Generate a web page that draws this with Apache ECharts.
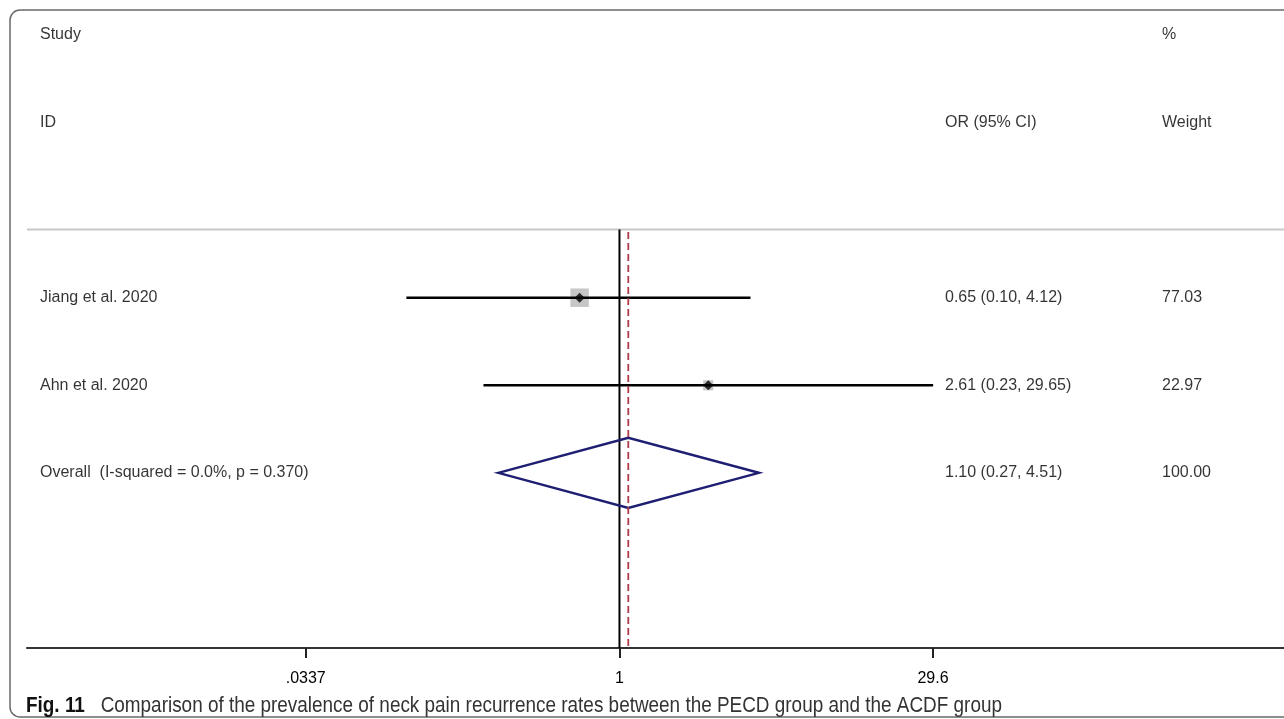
<!DOCTYPE html>
<html><head><meta charset="utf-8">
<script src="https://cdn.jsdelivr.net/npm/echarts@6/dist/echarts.min.js"></script>
<style>html,body{margin:0;padding:0;background:#fff}#c{width:1284px;height:719px}</style>
</head><body><div id="c"></div>
<script>
// ---- data ----
const studies = ['Jiang et al. 2020', 'Ahn et al. 2020'];
const orValues = [0.65, 2.61];
const ciLower = [0.10, 0.23];
const ciUpper = [4.12, 29.65];
const weights = [77.03, 22.97];
const overallLabel = ['Overall  (I-squared = 0.0%, p = 0.370)'];
const overallOR = [1.10];
const overallLower = [0.27];
const overallUpper = [4.51];
const overallWeight = [100.00];
const tickValues = [0.0337, 1, 29.6];
const tickLabels = ['.0337', '1', '29.6'];
const headerTop = ['Study', '%'];
const headerBottom = ['ID', 'OR (95% CI)', 'Weight'];
const caption = ['Fig. 11', 'Comparison of the prevalence of neck pain recurrence rates between the PECD group and the ACDF group'];

// ---- layout ----
const xMin = 0.001658, xMax = 1314;
const studyRow0 = 3, overallRow = 5, sepRow = 2.22, axisRow = 7;
const colStudy = 13, colOR = 918, colWeight = 1135; // px offsets from grid left
const FONT = '"Liberation Sans", Arial, sans-serif';

const fmt = v => v.toFixed(2);
const rowOf = i => studyRow0 + i;

const textData = [];
textData.push([colStudy, 0, headerTop[0]]);
textData.push([colWeight, 0, headerTop[1]]);
textData.push([colStudy, 1, headerBottom[0]]);
textData.push([colOR, 1, headerBottom[1]]);
textData.push([colWeight, 1, headerBottom[2]]);
studies.forEach((s, i) => {
  textData.push([colStudy, rowOf(i), s]);
  textData.push([colOR, rowOf(i), fmt(orValues[i]) + ' (' + fmt(ciLower[i]) + ', ' + fmt(ciUpper[i]) + ')']);
  textData.push([colWeight, rowOf(i), fmt(weights[i])]);
});
textData.push([colStudy, overallRow, overallLabel[0]]);
textData.push([colOR, overallRow, fmt(overallOR[0]) + ' (' + fmt(overallLower[0]) + ', ' + fmt(overallUpper[0]) + ')']);
textData.push([colWeight, overallRow, fmt(overallWeight[0])]);

const ciData = studies.map((s, i) => [ciLower[i], ciUpper[i], rowOf(i)]);
const boxData = studies.map((s, i) => [orValues[i], rowOf(i), weights[i]]);
const pointData = studies.map((s, i) => [orValues[i], rowOf(i)]);
const diamondData = [[overallLower[0], overallOR[0], overallUpper[0], overallRow]];

const chart = echarts.init(document.getElementById('c'));
chart.setOption({
  animation: false,
  backgroundColor: '#fff',
  grid: { left: 27, right: 0, top: 35, bottom: 71 },
  xAxis: [{
    type: 'log', logBase: Math.E, min: xMin, max: xMax, position: 'bottom',
    axisLine: { show: true, onZero: false, lineStyle: { color: '#333', width: 2 } },
    axisTick: { show: true, length: 10, customValues: tickValues, lineStyle: { color: '#222', width: 2 } },
    axisLabel: {
      customValues: tickValues, margin: 23, fontSize: 16, color: '#000', fontFamily: FONT,
      formatter: v => {
        let best = 0;
        tickValues.forEach((t, k) => { if (Math.abs(Math.log(t) - Math.log(v)) < Math.abs(Math.log(tickValues[best]) - Math.log(v))) best = k; });
        return tickLabels[best];
      }
    },
    splitLine: { show: false }
  }, {
    type: 'value', min: 0, max: 1257, show: false
  }],
  yAxis: [{ type: 'value', inverse: true, min: 0, max: axisRow, show: false }],
  graphic: [
    { type: 'rect', shape: { x: 10, y: 10, width: 1300, height: 707, r: 10 }, style: { fill: null, stroke: '#6a6a6a', lineWidth: 1.5 }, silent: true },
    { type: 'text', x: 26, y: 706, scaleX: 0.86, style: {
      text: '{b|' + caption[0] + '}   ' + caption[1],
      fontSize: 22, fontFamily: FONT, fill: '#333', verticalAlign: 'middle',
      rich: { b: { fontWeight: 'bold', fontSize: 22, fontFamily: FONT, fill: '#111' } }
    } }
  ],
  series: [
    { type: 'line', xAxisIndex: 1, data: [[0, sepRow], [1257, sepRow]], symbol: 'none', lineStyle: { color: '#c8c8c8', width: 2 }, z: 1, silent: true },
    { type: 'scatter', data: boxData, symbol: 'rect', symbolSize: v => 2.1 * Math.sqrt(v[2]), itemStyle: { color: '#b8b8b8' }, z: 2, silent: true },
    { type: 'custom', data: ciData, encode: { x: [0, 1], y: 2 }, z: 3, silent: true,
      renderItem: (params, api) => {
        const a = api.coord([api.value(0), api.value(2)]);
        const b = api.coord([api.value(1), api.value(2)]);
        return { type: 'line', shape: { x1: a[0], y1: a[1], x2: b[0], y2: b[1] }, style: { stroke: '#000', lineWidth: 2.5 } };
      } },
    { type: 'line', data: [[1, sepRow], [1, axisRow]], symbol: 'none', lineStyle: { color: '#000', width: 2 }, z: 4, silent: true },
    { type: 'line', data: [[overallOR[0], sepRow + 0.03], [overallOR[0], axisRow]], symbol: 'none', lineStyle: { color: '#b03a4a', width: 1.8, type: [7, 4] }, z: 6, silent: true },
    { type: 'scatter', data: pointData, symbol: 'diamond', symbolSize: 10, itemStyle: { color: '#000' }, z: 5, silent: true },
    { type: 'custom', data: diamondData, encode: { x: [0, 1, 2], y: 3 }, z: 5, silent: true,
      renderItem: (params, api) => {
        const r = api.value(3), h = 0.4;
        const p1 = api.coord([api.value(0), r]);
        const p2 = api.coord([api.value(1), r - h]);
        const p3 = api.coord([api.value(2), r]);
        const p4 = api.coord([api.value(1), r + h]);
        return { type: 'polygon', shape: { points: [p1, p2, p3, p4] }, style: { fill: null, stroke: '#1e1e72', lineWidth: 2.5 } };
      } },
    { type: 'scatter', xAxisIndex: 1, data: textData, symbolSize: 0, z: 10, silent: true,
      label: { show: true, position: 'right', distance: 0, formatter: p => p.value[2], fontSize: 16, color: '#000', fontFamily: FONT } }
  ]
});
</script></body></html>
